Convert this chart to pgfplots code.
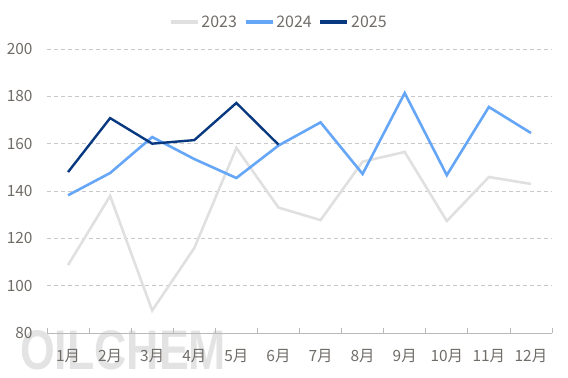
\documentclass[border=0pt]{standalone}
\usepackage{pgfplots}
\pgfplotsset{compat=1.18}
\usepackage{fontspec}
\setmainfont{Noto Sans CJK SC}
\newfontfamily\wmfont{Liberation Sans}[BoldFont={Liberation Sans Bold}]
\definecolor{c23}{RGB}{224,224,224}
\definecolor{c24}{RGB}{102,166,247}
\definecolor{c25}{RGB}{8,56,128}
\definecolor{txt}{RGB}{112,108,104}
\definecolor{gridc}{RGB}{200,200,200}
\definecolor{axc}{RGB}{185,185,185}
\begin{document}
\begin{tikzpicture}
\path[use as bounding box] (-47bp,-45bp) rectangle (521bp,333bp);
\node[anchor=west, text=black!11, font=\wmfont\bfseries\fontsize{56}{56}\selectfont, inner sep=0pt, xscale=0.80] at (-27bp,-17bp) {OILCHEM};
\begin{axis}[
  at={(0,0)}, anchor=south west,
  scale only axis, width=505bp, height=284bp,
  xmin=0.5, xmax=12.5, ymin=80, ymax=200,
  ytick={80,100,...,200},
  xtick={1,...,12},
  xticklabels={1月,2月,3月,4月,5月,6月,7月,8月,9月,10月,11月,12月},
  minor xtick={0.5,1.5,...,12.5},
  major x tick style={draw=none},
  minor tick length=5bp,
  tick align=inside,
  axis x line*=bottom, axis y line*=left,
  x axis line style={draw=axc, line width=0.8bp, -},
  y axis line style={draw=none},
  minor x tick style={draw=axc, line width=0.8bp},
  ytick style={draw=none},
  ymajorgrids,
  major grid style={draw=gridc, dash pattern=on 4bp off 3bp, line width=0.7bp},
  tick label style={text=txt, font=\fontsize{15.5}{15.5}\selectfont},
  yticklabel style={xshift=-11bp},
  xticklabel style={yshift=-13bp},
  /pgf/number format/assume math mode=true,
  legend style={at={(0.459,1.095)}, anchor=center, draw=none, fill=none,
    legend columns=3, font=\fontsize{16}{16}\selectfont, text=txt,
    /tikz/every even column/.append style={column sep=5bp},
    nodes={inner xsep=2bp, inner ysep=1bp}},
  legend image code/.code={\draw[#1, line width=3.5bp] (0bp,0bp) -- (27bp,0bp);},
  clip=false,
]
\addplot[c23, line width=2.6bp] coordinates {(1,108.7)(2,137.9)(3,89.5)(4,115.9)(5,158.2)(6,133)(7,127.7)(8,152.4)(9,156.5)(10,127.3)(11,145.9)(12,143)};
\addlegendentry{2023}
\addplot[c24, line width=2.6bp] coordinates {(1,138.2)(2,147.6)(3,162.8)(4,153.5)(5,145.5)(6,159.2)(7,169)(8,147.2)(9,181.4)(10,146.7)(11,175.5)(12,164.5)};
\addlegendentry{2024}
\addplot[c25, line width=2.4bp] coordinates {(1,148)(2,170.8)(3,160)(4,161.5)(5,177.2)(6,159.6)};
\addlegendentry{2025}
\end{axis}
\end{tikzpicture}
\end{document}
